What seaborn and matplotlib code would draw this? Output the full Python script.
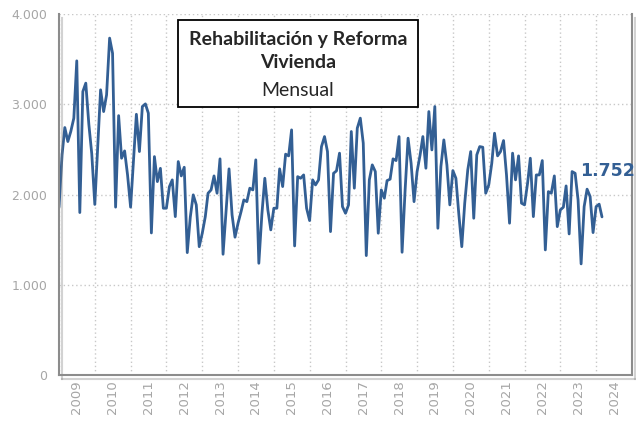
import pandas as pd
import numpy as np
import matplotlib
matplotlib.use("Agg")
import matplotlib.pyplot as plt
import matplotlib.patheffects as pe
from matplotlib.patches import Rectangle
import seaborn as sns

# Monthly values (Jan 2009 - Mar 2024)
y2009 = [1860, 2439, 2742, 2587, 2698, 2846, 3481, 1800, 3141, 3234, 2780, 2450]
y2010 = [1890, 2550, 3160, 2919, 3104, 3733, 3565, 1860, 2874, 2402, 2483, 2217]
y2011 = [1860, 2400, 2889, 2476, 2975, 3004, 2901, 1574, 2420, 2143, 2290, 1848]
y2012 = [1848, 2088, 2162, 1755, 2365, 2206, 2302, 1356, 1750, 1996, 1885, 1422]
y2013 = [1571, 1755, 2014, 2051, 2206, 2014, 2395, 1338, 1820, 2284, 1774, 1527]
y2014 = [1682, 1811, 1940, 1921, 2070, 2051, 2384, 1238, 1780, 2180, 1829, 1608]
y2015 = [1848, 1848, 2284, 2088, 2447, 2428, 2716, 1430, 2198, 2180, 2217, 1848]
y2016 = [1711, 2162, 2106, 2162, 2531, 2642, 2476, 1589, 2235, 2262, 2458, 1866]
y2017 = [1792, 1885, 2698, 2070, 2735, 2846, 2569, 1323, 2162, 2328, 2254, 1571]
y2018 = [2051, 1959, 2154, 2170, 2395, 2376, 2642, 1360, 2050, 2624, 2347, 1921]
y2019 = [2254, 2439, 2642, 2291, 2919, 2494, 2975, 1626, 2310, 2605, 2328, 1885]
y2020 = [2265, 2180, 1792, 1422, 1904, 2273, 2476, 1737, 2439, 2531, 2524, 2014]
y2021 = [2106, 2347, 2679, 2428, 2476, 2598, 2217, 1682, 2458, 2162, 2428, 1904]
y2022 = [1885, 2125, 2402, 1755, 2217, 2217, 2376, 1386, 2032, 2014, 2206, 1644]
y2023 = [1829, 1859, 2095, 1563, 2254, 2235, 1940, 1231, 1866, 2059, 1977, 1578]
y2024 = [1866, 1893, 1752]

values = (y2009 + y2010 + y2011 + y2012 + y2013 + y2014 + y2015 + y2016
          + y2017 + y2018 + y2019 + y2020 + y2021 + y2022 + y2023 + y2024)
dates = pd.date_range("2009-01-01", periods=len(values), freq="MS")
years = list(range(2009, 2025))
yticks = [0, 1000, 2000, 3000, 4000]
title_lines = ["Rehabilitación y Reforma", "Vivienda", "Mensual"]

df = pd.DataFrame({"fecha": dates, "valor": values})

line_color = "#335F94"
grey = "#A6A6A6"

sns.set_style("white")
fig = plt.figure(figsize=(6.36, 4.21), dpi=100)
ax = fig.add_axes([0.0928, 0.1093, 0.9009, 0.8574])

sns.lineplot(data=df, x="fecha", y="valor", ax=ax, color=line_color, linewidth=2.0)

ax.set_xlim(pd.Timestamp("2009-01-01"), pd.Timestamp("2025-01-01"))
ax.set_ylim(0, 4000)
ax.set_xlabel("")
ax.set_ylabel("")

# y axis
ax.set_yticks(yticks)
ax.set_yticklabels([f"{v:,}".replace(",", ".") for v in yticks])
ax.tick_params(axis="y", colors="#8C8C8C", labelcolor=grey, labelsize=9,
               length=5, width=1.2, direction="out")

# x axis: year ticks at boundaries, labels centred in the year
ax.set_xticks([pd.Timestamp(f"{y}-01-01") for y in years] + [pd.Timestamp("2025-01-01")])
ax.set_xticklabels([])
ax.set_xticks([pd.Timestamp(f"{y}-07-02") for y in years], minor=True)
ax.set_xticklabels([str(y) for y in years], minor=True, rotation=90)
ax.tick_params(axis="x", which="major", colors="#8C8C8C", length=5, width=1.2,
               direction="out")
ax.tick_params(axis="x", which="minor", length=0, labelcolor=grey, labelsize=9.5,
               pad=4)

# dotted grid
ax.grid(True, which="major", linestyle=(0, (1, 2)), color="#C8C8C8", linewidth=1)

for side in ["left", "bottom", "right"]:
    ax.spines[side].set_visible(True)
    ax.spines[side].set_color("#8C8C8C")
    ax.spines[side].set_linewidth(1.5)
    ax.spines[side].set_path_effects([
        pe.SimpleLineShadow(offset=(2, -3), shadow_color="#7F7F7F", alpha=0.35),
        pe.Normal()])
ax.spines["top"].set_visible(False)

# title box
fig.patches.append(Rectangle((178 / 636, 1 - 107 / 421), 240 / 636, 87 / 421,
                             transform=fig.transFigure, facecolor="white",
                             edgecolor="black", linewidth=1.3, zorder=5))
box_font = ["Lato", "DejaVu Sans"]
fig.text(0.4686, 1 - 39 / 421, title_lines[0], ha="center", va="center",
         fontsize=14, fontweight="bold", family=box_font, zorder=6)
fig.text(0.4686, 1 - 63 / 421, title_lines[1], ha="center", va="center",
         fontsize=14, fontweight="bold", family=box_font, zorder=6)
fig.text(0.4686, 1 - 90 / 421, title_lines[2], ha="center", va="center",
         fontsize=14, family=box_font, zorder=6)

# last value label
last_label = f"{values[-1]:,}".replace(",", ".")
ax.annotate(last_label, xy=(dates[-1], values[-1]), xytext=(-22, 46),
            textcoords="offset pixels", ha="left", va="center",
            fontsize=12.5, fontweight="bold", color=line_color,
            annotation_clip=False)

plt.savefig("out.png", dpi=100)
